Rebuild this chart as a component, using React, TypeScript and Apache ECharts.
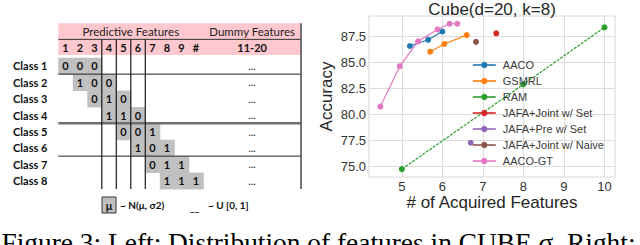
import React, { useEffect, useRef } from "react";
import * as echarts from "echarts";

// ---------------- Right chart data ----------------
const seriesNames = [
  "AACO",
  "GSMRL",
  "RAM",
  "JAFA+Joint w/ Set",
  "JAFA+Pre w/ Set",
  "JAFA+Joint w/ Naive",
  "AACO-GT",
];
const seriesColors = ["#1f77b4", "#ff7f0e", "#2ca02c", "#d62728", "#9467bd", "#8c564b", "#e377c2"];
const aaco = [[5.2, 86.6], [5.65, 87.2], [6.0, 88.0]];
const gsmrl = [[5.7, 86.05], [6.05, 86.8], [6.6, 87.65]];
const ram = [[5, 74.7], [8, 82.9], [10, 88.4]];
const jafaJointSet = [[7.33, 87.83]];
const jafaPreSet = [[6.7, 77.25]];
const jafaJointNaive = [[6.83, 87.0]];
const aacoGt = [[4.47, 80.75], [4.95, 84.65], [5.4, 87.05], [5.88, 88.2], [6.18, 88.75], [6.37, 88.75]];
const seriesData = [aaco, gsmrl, ram, jafaJointSet, jafaPreSet, jafaJointNaive, aacoGt];
const xTicks = [5, 6, 7, 8, 9, 10];
const yTicks = [75, 77.5, 80, 82.5, 85, 87.5];
const chartTitle = "Cube(d=20, k=8)";
const xName = "# of Acquired Features";
const yName = "Accuracy";

// ---------------- Left table data ----------------
const groupLabels = ["Predictive Features", "Dummy Features"];
const featureLabels = ["1", "2", "3", "4", "5", "6", "7", "8", "9", "#"];
const dummyLabel = "11-20";
const classNames = ["Class 1", "Class 2", "Class 3", "Class 4", "Class 5", "Class 6", "Class 7", "Class 8"];
const classStart = [0, 1, 2, 3, 4, 5, 6, 7];
const classMeans = [
  [0, 0, 0],
  [1, 0, 0],
  [0, 1, 0],
  [1, 1, 0],
  [0, 0, 1],
  [1, 0, 1],
  [0, 1, 1],
  [1, 1, 1],
];
const dummyText = "...";
const rowBreaks = [1, 4, 6];
const majorRowBreak = 4;
const colBreaks = [3, 4, 5, 6];
const gaussLegend = "~ N(μ, σ2)";
const uniformLegend = "~ U [0, 1]";
const caption = "Figure 3: Left: Distribution of features in CUBE σ. Right:";

// layout constants (table units)
const DUMMY_SPAN = 6.74;
const TOTAL_COLS = featureLabels.length + DUMMY_SPAN;
const HEAD_SPLIT = 0.98;
const HEAD_END = 1.93;
const ROW0 = 2.1;
const TABLE_ROWS = ROW0 + classNames.length;
const LABEL_X = -3.12;

const tableFont = "Lato";

function txt(x: number, y: number, text: string, opts: any = {}) {
  const align = opts.align || "center";
  return {
    type: "text",
    x,
    y,
    style: {
      text,
      fill: opts.fill || "#111",
      fontSize: opts.size || 11,
      fontWeight: opts.weight || "bold",
      fontFamily: opts.family || tableFont,
      align,
      textAlign: align,
      verticalAlign: "middle",
      textVerticalAlign: "middle",
    },
  };
}

export default function App() {
  const ref = useRef<HTMLDivElement>(null);
  useEffect(() => {
    if (!ref.current) return;
    const chart = echarts.init(ref.current, null, { renderer: "svg" });

    const cellData: number[][] = [];
    classMeans.forEach((means, i) => {
      means.forEach((m, j) => cellData.push([classStart[i] + j, i, m]));
    });

    const headerLabelText = [...featureLabels, dummyLabel];
    const headerLabelData = headerLabelText.map((_, j) => [
      j < featureLabels.length ? j + 0.5 : featureLabels.length + DUMMY_SPAN / 2,
      (HEAD_SPLIT + HEAD_END) / 2,
    ]);
    const groupData = groupLabels.map((_, g) => [
      g === 0 ? featureLabels.length / 2 : featureLabels.length + DUMMY_SPAN / 2,
      HEAD_SPLIT / 2 + 0.03,
    ]);

    const tableAxes = { xAxisIndex: 1, yAxisIndex: 1, coordinateSystem: "cartesian2d" };

    const lineSeries = seriesNames.map((name, k) => ({
      name,
      type: "line",
      xAxisIndex: 0,
      yAxisIndex: 0,
      data: seriesData[k],
      symbol: "circle",
      symbolSize: 6,
      showSymbol: true,
      itemStyle: { color: seriesColors[k] },
      lineStyle: { color: seriesColors[k], width: 1.2, type: k === 2 ? [3, 1.2] : "solid" },
      z: 3,
    }));

    const option: any = {
      animation: false,
      backgroundColor: "#ffffff",
      grid: [
        {
          left: 369,
          top: 16,
          width: 246,
          height: 161,
          show: true,
          borderColor: "#d6d6d6",
          borderWidth: 1,
          backgroundColor: "#ffffff",
          containLabel: false,
          outerBoundsMode: "none",
        },
        {
          left: 58.3,
          top: 23.3,
          width: 242.7,
          height: TABLE_ROWS * 16.4,
          show: false,
          containLabel: false,
          outerBoundsMode: "none",
        },
      ],
      xAxis: [
        {
          gridIndex: 0,
          type: "value",
          min: 4.19,
          max: 10.26,
          name: xName,
          nameLocation: "middle",
          nameGap: 17,
          nameMoveOverlap: false,
          nameTextStyle: { fontSize: 17, color: "#262626", fontFamily: "Liberation Sans" },
          axisLine: { show: false },
          axisTick: { show: false, customValues: xTicks },
          axisLabel: {
            customValues: xTicks,
            margin: 3,
            fontSize: 13,
            color: "#333",
            fontFamily: "Liberation Sans",
            formatter: (v: number) => String(v),
          },
          splitLine: { show: true, lineStyle: { color: "#dcdcdc", width: 1 } },
        },
        { gridIndex: 1, type: "value", min: 0, max: TOTAL_COLS, show: false },
      ],
      yAxis: [
        {
          gridIndex: 0,
          type: "value",
          min: 73.94,
          max: 89.5,
          name: yName,
          nameLocation: "middle",
          nameGap: 34,
          nameMoveOverlap: false,
          nameTextStyle: { fontSize: 17, color: "#262626", fontFamily: "Liberation Sans" },
          axisLine: { show: false },
          axisTick: { show: false, customValues: yTicks },
          axisLabel: {
            customValues: yTicks,
            margin: 3,
            fontSize: 13,
            color: "#333",
            fontFamily: "Liberation Sans",
            formatter: (v: number) => v.toFixed(1),
          },
          splitLine: { show: true, lineStyle: { color: "#dcdcdc", width: 1 } },
        },
        { gridIndex: 1, type: "value", min: 0, max: TABLE_ROWS, inverse: true, show: false },
      ],
      legend: {
        data: seriesNames,
        orient: "vertical",
        left: 472,
        top: 59.5,
        padding: 0,
        itemWidth: 23,
        itemHeight: 8,
        itemGap: 5,
        lineStyle: { width: 1.6, type: "solid" },
        textStyle: { fontSize: 11, color: "#3a3a3a", fontFamily: "Liberation Sans", padding: [0, 0, 0, 2] },
        backgroundColor: "transparent",
      },
      tooltip: { show: false },
      graphic: [
        {
          type: "text",
          x: 492,
          y: 9,
          style: {
            text: chartTitle,
            fontSize: 17,
            fontFamily: "Liberation Sans",
            fill: "#262626",
            align: "center",
            textAlign: "center",
            verticalAlign: "middle",
            textVerticalAlign: "middle",
          },
        },
        {
          type: "text",
          x: 1.5,
          y: 243,
          style: {
            text: caption,
            fontSize: 27.4,
            fontFamily: "Liberation Serif",
            fill: "#000",
            align: "left",
            textAlign: "left",
            verticalAlign: "middle",
            textVerticalAlign: "middle",
          },
        },
        {
          type: "rect",
          shape: { x: 102, y: 197, width: 14, height: 16 },
          style: { fill: "#c0c0c0", stroke: "#333", lineWidth: 1 },
        },
        txt(109, 205, "μ", { size: 11 }),
        txt(120, 205, gaussLegend, { size: 10, align: "left" }),
        txt(190, 207, "__", { size: 10, align: "left" }),
        txt(208, 205, uniformLegend, { size: 10, align: "left" }),
      ],
      series: [
        ...lineSeries,
        // pink header band
        {
          type: "custom",
          ...tableAxes,
          data: [[0]],
          z: 1,
          renderItem: (_p: any, api: any) => {
            const a = api.coord([0, 0]);
            const b = api.coord([TOTAL_COLS, HEAD_END]);
            return {
              type: "rect",
              shape: { x: a[0], y: a[1], width: b[0] - a[0], height: b[1] - a[1] },
              style: { fill: "#ffc7ce" },
            };
          },
        },
        // gaussian cells
        {
          type: "custom",
          ...tableAxes,
          data: cellData,
          z: 2,
          renderItem: (_p: any, api: any) => {
            const c = api.value(0);
            const r = api.value(1);
            const m = api.value(2);
            const a = api.coord([c, ROW0 + r]);
            const b = api.coord([c + 1, ROW0 + r + 1]);
            return {
              type: "group",
              children: [
                {
                  type: "rect",
                  shape: { x: a[0], y: a[1], width: b[0] - a[0] + 0.5, height: b[1] - a[1] + 0.5 },
                  style: { fill: "#c0c0c0" },
                },
                txt((a[0] + b[0]) / 2, (a[1] + b[1]) / 2, String(m)),
              ],
            };
          },
        },
        // horizontal group lines
        {
          type: "custom",
          ...tableAxes,
          data: rowBreaks.map((b) => [b]),
          z: 4,
          renderItem: (_p: any, api: any) => {
            const r = api.value(0);
            const a = api.coord([0, ROW0 + r]);
            const b = api.coord([TOTAL_COLS, ROW0 + r]);
            const major = r === majorRowBreak;
            return {
              type: "line",
              shape: { x1: a[0], y1: a[1], x2: b[0], y2: b[1] },
              style: { stroke: major ? "#6e6e6e" : "#222", lineWidth: major ? 2.5 : 1 },
            };
          },
        },
        // vertical group lines
        {
          type: "custom",
          ...tableAxes,
          data: colBreaks.map((c) => [c]),
          z: 4,
          renderItem: (_p: any, api: any) => {
            const c = api.value(0);
            const a = api.coord([c, HEAD_SPLIT]);
            const b = api.coord([c, TABLE_ROWS]);
            return {
              type: "line",
              shape: { x1: a[0], y1: a[1], x2: b[0], y2: b[1] },
              style: { stroke: "#1a1a1a", lineWidth: 1.2 },
            };
          },
        },
        // header split line + right edge
        {
          type: "custom",
          ...tableAxes,
          data: [[0]],
          z: 4,
          renderItem: (_p: any, api: any) => {
            const a = api.coord([0, HEAD_SPLIT]);
            const b = api.coord([TOTAL_COLS, HEAD_SPLIT]);
            const t = api.coord([TOTAL_COLS, 0]);
            const e = api.coord([TOTAL_COLS, TABLE_ROWS]);
            return {
              type: "group",
              children: [
                { type: "line", shape: { x1: a[0], y1: a[1], x2: b[0], y2: b[1] }, style: { stroke: "#333", lineWidth: 1 } },
                { type: "line", shape: { x1: t[0], y1: t[1], x2: e[0], y2: e[1] }, style: { stroke: "#555", lineWidth: 1.6 } },
              ],
            };
          },
        },
        // group header labels
        {
          type: "custom",
          ...tableAxes,
          data: groupData,
          z: 5,
          renderItem: (p: any, api: any) => {
            const pt = api.coord([api.value(0), api.value(1)]);
            return txt(pt[0], pt[1], groupLabels[p.dataIndex], { size: 11.5, weight: "normal", fill: "#222" });
          },
        },
        // feature number labels
        {
          type: "custom",
          ...tableAxes,
          data: headerLabelData,
          z: 5,
          renderItem: (p: any, api: any) => {
            const pt = api.coord([api.value(0), api.value(1)]);
            return txt(pt[0], pt[1], headerLabelText[p.dataIndex], { size: 11 });
          },
        },
        // class labels
        {
          type: "custom",
          ...tableAxes,
          data: classNames.map((_, i) => [LABEL_X, ROW0 + i + 0.5]),
          z: 5,
          renderItem: (p: any, api: any) => {
            const pt = api.coord([api.value(0), api.value(1)]);
            return txt(pt[0], pt[1], classNames[p.dataIndex], { size: 11, align: "left" });
          },
        },
        // dummy dots
        {
          type: "custom",
          ...tableAxes,
          data: classNames.map((_, i) => [featureLabels.length + DUMMY_SPAN / 2, ROW0 + i + 0.5]),
          z: 5,
          renderItem: (_p: any, api: any) => {
            const pt = api.coord([api.value(0), api.value(1)]);
            return txt(pt[0], pt[1], dummyText, { size: 10, fill: "#333" });
          },
        },
      ],
    };
    chart.setOption(option);
    return () => chart.dispose();
  }, []);
  return <div ref={ref} style={{ position: "absolute", left: 0, top: 0, width: 640, height: 245 }} />;
}
